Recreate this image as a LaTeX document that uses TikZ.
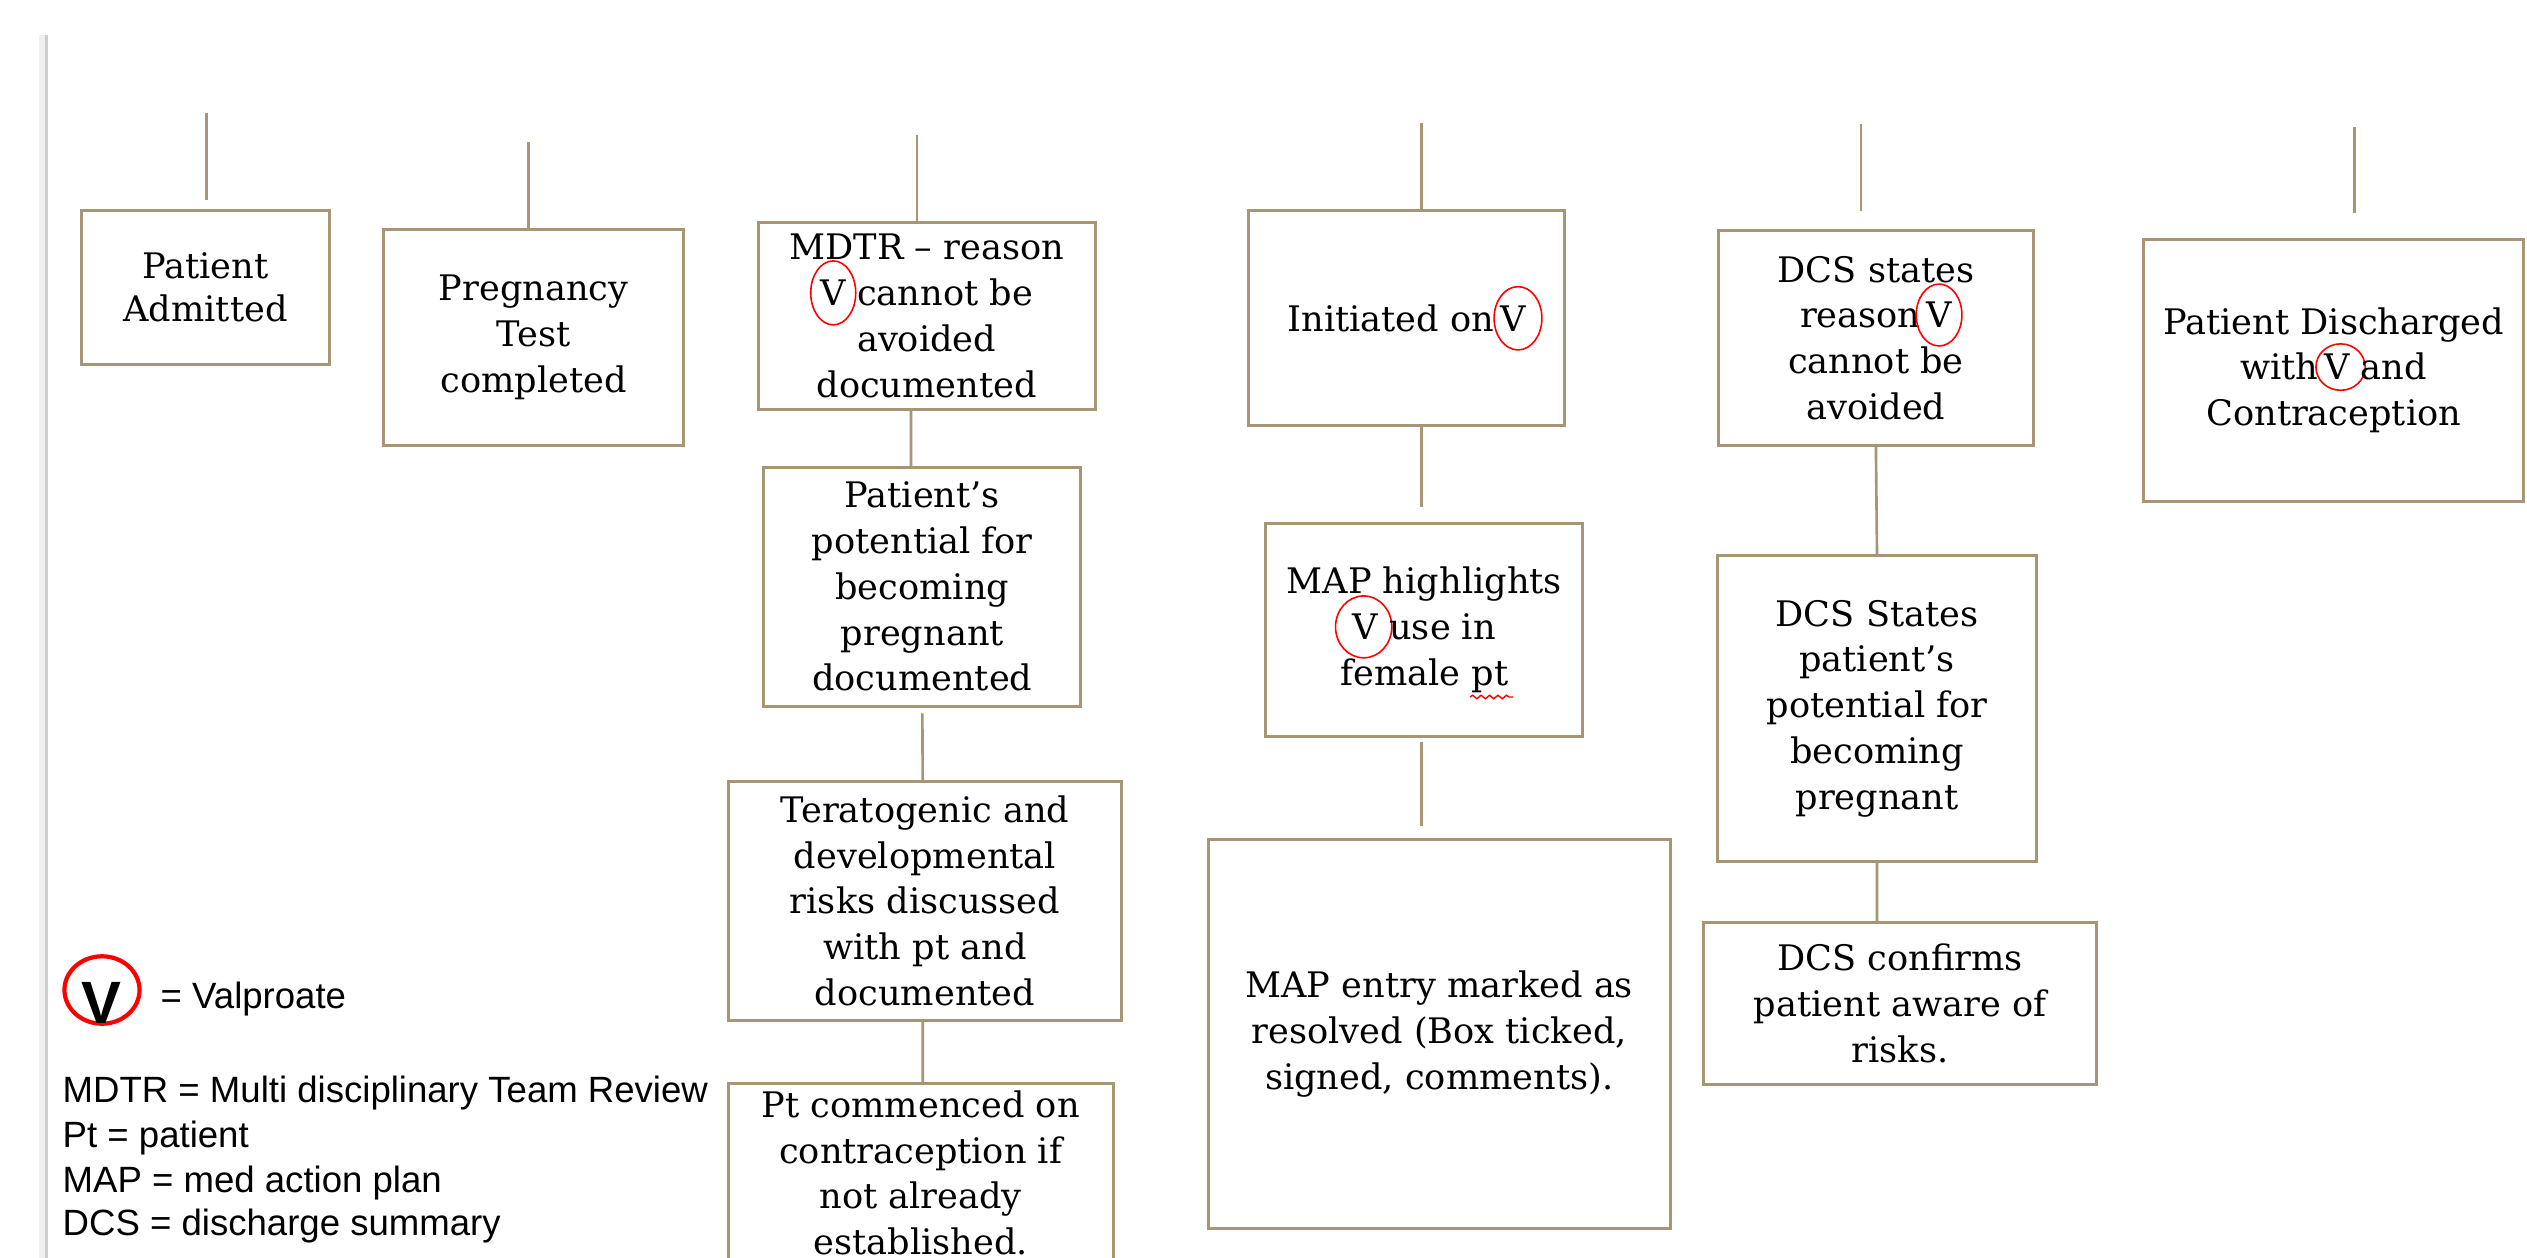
\documentclass[tikz,border=0pt]{standalone}
\usepackage{fontspec}
\setmainfont{DejaVu Serif}
\newfontfamily\legfont{Liberation Sans}
\usetikzlibrary{shapes.geometric,decorations.pathmorphing}
\definecolor{tanline}{RGB}{166,150,116}
\definecolor{edgegray}{RGB}{205,205,205}
\tikzset{
  stepbox/.style={draw=tanline,line width=0.85pt,align=center,inner sep=0pt,
    font=\fontsize{10}{13}\selectfont},
  link/.style={draw=tanline,line width=0.75pt},
  vring/.style={draw=red,line width=0.45pt},
  vletter/.style={draw=none,fill=none,inner sep=0pt,outer sep=0pt,minimum width=0pt,minimum height=0pt,shape=rectangle},
  legtext/.style={font=\legfont\fontsize{10.4}{12.8}\selectfont,inner sep=0pt,anchor=base west},
}
\newcommand\ringV[3][0pt]{\tikz[baseline=(vv.base)]{\node[vletter](vv){V};\draw[vring,overlay]([xshift=#1]vv.center) ellipse[x radius=#2,y radius=#3];}}
\begin{document}
\begin{tikzpicture}[x=0.01cm,y=-0.01cm]
\useasboundingbox (0,0) rectangle (2527,1258);
\fill[white] (0,0) rectangle (2527,1258);
\clip (0,0) rectangle (2527,1258);
% left page edge
\draw[gray!12,line width=2pt] (43,35) -- (43,1258);
\draw[edgegray,line width=1pt] (46.5,35) -- (46.5,1258);

% boxes
\node[stepbox,minimum width=2.48cm,minimum height=1.536cm,font=\fontsize{10}{12.3}\selectfont] (adm) at (205.5,287.5) {Patient\\Admitted};
\node[stepbox,minimum width=2.996cm,minimum height=2.15cm] (preg) at (533.6,337.5) {Pregnancy\\Test\\completed};
\node[stepbox,minimum width=3.367cm,minimum height=1.866cm] (mdtr) at (926.7,316) {MDTR – reason\\\ringV{6.4pt}{9.1pt} cannot be\\avoided\\documented};
\node[stepbox,minimum width=3.167cm,minimum height=2.387cm] (pot) at (922.3,586.7) {Patient’s\\potential for\\becoming\\pregnant\\documented};
\node[stepbox,minimum width=3.934cm,minimum height=2.383cm] (tera) at (925,900.8) {Teratogenic and\\developmental\\risks discussed\\with pt and\\documented};
\node[stepbox,minimum width=3.847cm,minimum height=1.78cm] (contra) at (920.7,1173) {Pt commenced on\\contraception if\\not already\\established.};
\node[stepbox,minimum width=3.15cm,minimum height=2.14cm] (init) at (1406.5,318) {Initiated on\,\ringV[1.5pt]{6.8pt}{9pt}};
\node[stepbox,minimum width=3.167cm,minimum height=2.134cm] (maph) at (1424.3,630) {MAP highlights\\\ringV[-0.5pt]{8pt}{8.8pt} use in\\female pt};
\node[stepbox,minimum width=4.617cm,minimum height=3.883cm] (mape) at (1439.2,1034.2) {MAP entry marked as\\resolved (Box ticked,\\signed, comments).};
\node[stepbox,minimum width=3.142cm,minimum height=2.143cm] (dcs1) at (1875.9,337.9) {DCS states\\reason\,\ringV{6.5pt}{8.8pt}\\cannot be\\avoided};
\node[stepbox,minimum width=3.18cm,minimum height=3.05cm] (dcs2) at (1877,708.5) {DCS States\\patient’s\\potential for\\becoming\\pregnant};
\node[stepbox,minimum width=3.92cm,minimum height=1.61cm] (dcs3) at (1900,1003.5) {DCS confirms\\patient aware of\\risks.};
\node[stepbox,minimum width=3.798cm,minimum height=2.617cm] (disc) at (2333.7,370.2) {Patient Discharged\\with\,\ringV[1pt]{7pt}{6.6pt} and\\Contraception};

% spell-check squiggle under "pt"
\draw[red,line width=0.4pt,decorate,decoration={snake,amplitude=0.5pt,segment length=2.4pt}] (1470,697) -- (1513,697);

% connectors
\coordinate (t1) at (206.6,113.3);
\draw[link,shorten >=0.09cm] (t1) -- (t1 |- adm.north);
\coordinate (t2) at (528.5,141.7);
\draw[link] (t2) -- (t2 |- preg.north);
\coordinate (t3) at (917,135);
\draw[link] (t3) -- (t3 |- mdtr.north);
\draw[link] ([xshift=-0.157cm]mdtr.south) -- ([xshift=-0.113cm]pot.north);
\draw[link,shorten <=0.057cm] (pot.south) -- ([xshift=-0.023cm]tera.north);
\draw[link] ([xshift=-0.023cm]tera.south) -- ([xshift=0.02cm]contra.north);
\coordinate (t7) at (1421.7,122.7);
\draw[link] (t7) -- (t7 |- init.north);
\coordinate (e8) at (1421.7,506.7);
\draw[link] (init.south -| e8) -- (e8);
\coordinate (e9) at (1421.7,826);
\draw[link,shorten <=0.033cm] (maph.south -| e9) -- (e9);
\coordinate (t10) at (1860.8,124);
\draw[link,shorten >=0.18cm] (t10) -- (t10 |- dcs1.north);
\draw[link] (dcs1.south) -- (dcs2.north);
\draw[link] (dcs2.south) -- ([xshift=-0.23cm]dcs3.north);
\coordinate (t13) at (2354.7,127);
\draw[link,shorten >=0.243cm] (t13) -- (t13 |- disc.north);

% legend
\node[ellipse,draw=red,line width=1.2pt,minimum width=0.75cm,minimum height=0.674cm,inner sep=0pt] (vleg) at (102,990) {};
\node[font=\legfont\bfseries\fontsize{17}{20}\selectfont,inner sep=0pt,anchor=base] (vlet) at (101,1023) {V};
\node[legtext] (legval) at (160,1008) {= Valproate};
\node[legtext] (lgm) at (62,1102) {MDTR = Multi disciplinary Team Review};
\node[legtext] (lgp) at (62,1147) {Pt = patient};
\node[legtext] (lga) at (62,1192) {MAP = med action plan};
\node[legtext] (lgd) at (62,1235) {DCS = discharge summary};
\end{tikzpicture}
\end{document}
